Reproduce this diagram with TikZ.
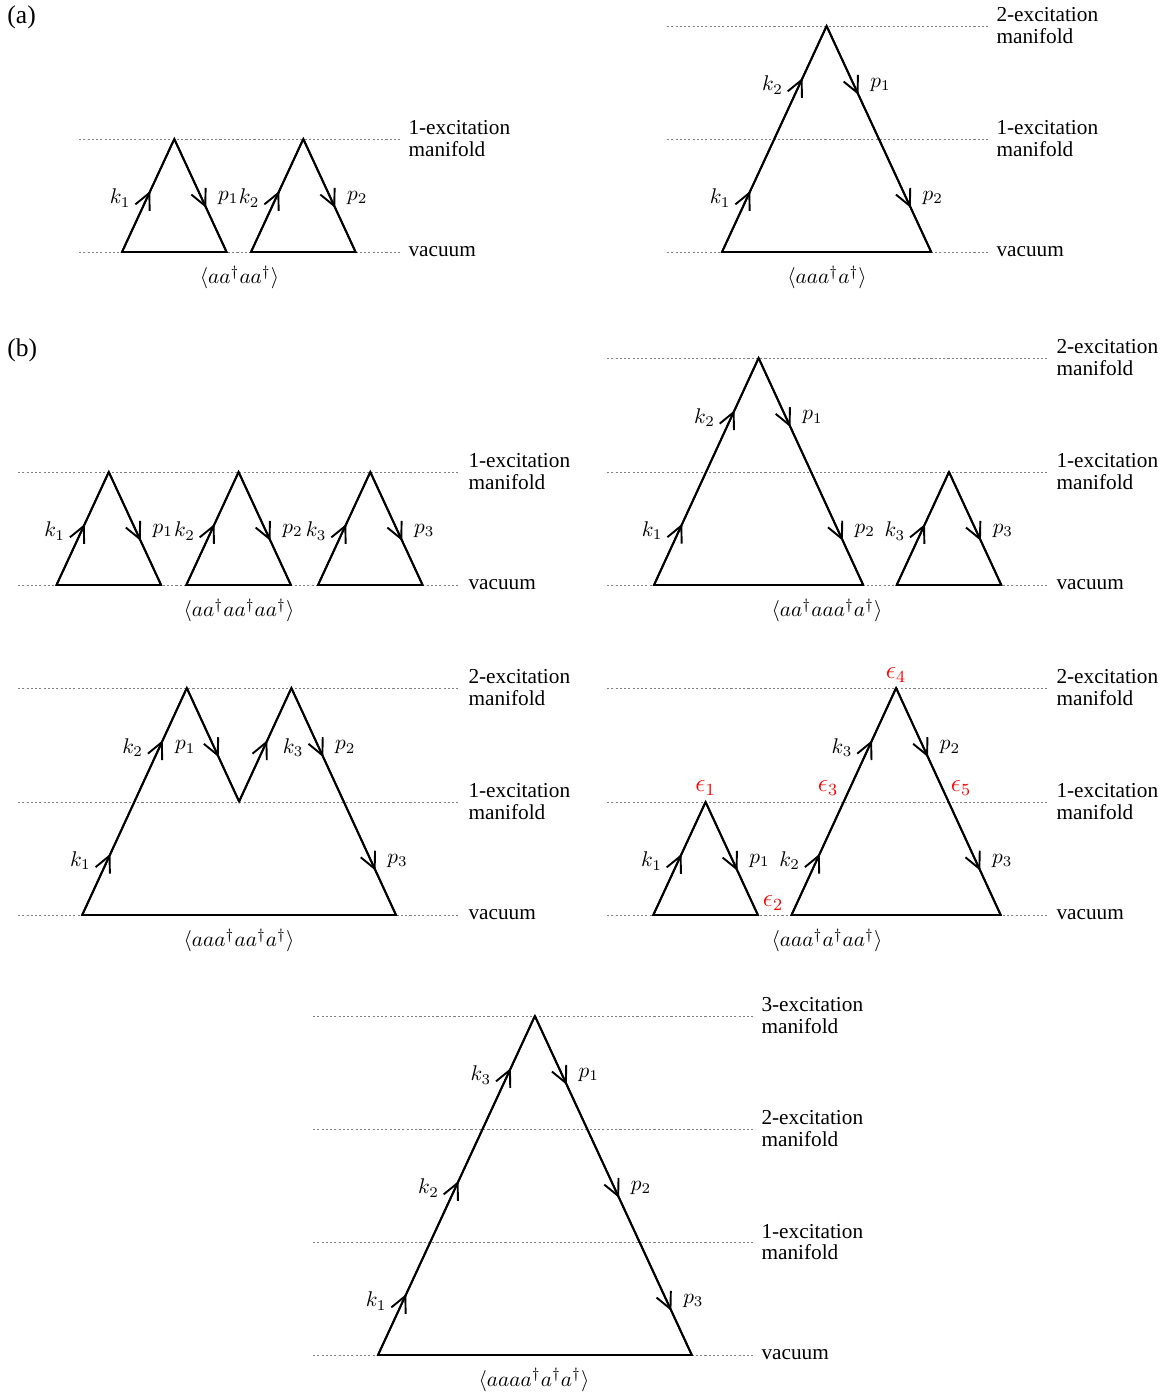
\documentclass[tikz,border=0pt]{standalone}
\usepackage[no-math]{fontspec}
\setmainfont{Liberation Serif}
\usetikzlibrary{positioning, arrows.meta, calc, decorations.markings}

\tikzset{
  lvl/.style={black!50, line width=0.4pt, dash pattern=on 1pt off 1pt},
  mfd/.style={anchor=west, align=left, inner sep=3.8pt, text=black,
              font=\fontsize{10}{10.3}\selectfont},
  prop/.style={line width=0.9pt},
  kedge/.style={prop, postaction={decorate},
    decoration={markings, mark=at position 0.54 with {\arrow{>}}}},
  pedge/.style={prop, postaction={decorate},
    decoration={markings, mark=at position 0.61 with {\arrow{>}}}},
  klab/.style={left=4.5pt, yshift=-1.2pt},
  plab/.style={right=4.5pt, yshift=-1.2pt},
  corr/.style={font=\fontsize{10}{12}\selectfont},
  eps/.style={text=red, inner sep=0pt, font=\fontsize{11.5}{13}\selectfont},
  panel/.style={font=\fontsize{12}{14}\selectfont, anchor=base west, inner sep=0pt},
}

\begin{document}
\begin{tikzpicture}[x=0.47pt, y=-0.47pt,
  >={Straight Barb[length=7.6pt, width=7.4pt, line width=0.9pt]}]
\useasboundingbox (0,0) rectangle (1166,1392);

\node[panel] (pa) at (7,23.7) {(a)};
\node[panel] (pb) at (7,356.7) {(b)};

% (a) left: <a a^+ a a^+>
\draw[lvl] (79,139) -- (400,139) node[mfd] (a1e1) {1-excitation\\manifold};
\draw[lvl] (79,252) -- (400,252) node[mfd] (a1e0) {vacuum};
\coordinate (a1v0) at (122,252);
\coordinate (a1t1) at (174.3,139);
\coordinate (a1v1) at (226.6,252);
\coordinate (a1v2) at (251,252);
\coordinate (a1t2) at (303.3,139);
\coordinate (a1v3) at (355.6,252);
\draw[kedge] (a1v0) -- node[klab] (a1k1) {$k_1$} (a1t1);
\draw[pedge] (a1t1) -- node[plab] (a1p1) {$p_1$} (a1v1);
\draw[kedge] (a1v2) -- node[klab] (a1k2) {$k_2$} (a1t2);
\draw[pedge] (a1t2) -- node[plab] (a1p2) {$p_2$} (a1v3);
\draw[prop] (a1v0) -- (a1t1) -- (a1v1) -- cycle;
\draw[prop] (a1v2) -- (a1t2) -- (a1v3) -- cycle;
\node[corr] (a1c) at (239.5,277.5) {$\langle aa^\dagger aa^\dagger\rangle$};

% (a) right: <a a a^+ a^+>
\draw[lvl] (667,26) -- (988,26) node[mfd] (a2e2) {2-excitation\\manifold};
\draw[lvl] (667,139) -- (988,139) node[mfd] (a2e1) {1-excitation\\manifold};
\draw[lvl] (667,252) -- (988,252) node[mfd] (a2e0) {vacuum};
\coordinate (a2v0) at (722,252);
\coordinate (a2t) at (826.6,26);
\coordinate (a2v1) at (931.2,252);
\coordinate (a2m1) at ($(a2v0)!.5!(a2t)$);
\coordinate (a2m2) at ($(a2t)!.5!(a2v1)$);
\draw[kedge] (a2v0) -- node[klab] (a2k1) {$k_1$} (a2m1);
\draw[kedge] (a2m1) -- node[klab] (a2k2) {$k_2$} (a2t);
\draw[pedge] (a2t) -- node[plab] (a2p1) {$p_1$} (a2m2);
\draw[pedge] (a2m2) -- node[plab] (a2p2) {$p_2$} (a2v1);
\draw[prop] (a2v0) -- (a2t) -- (a2v1) -- cycle;
\node[corr] (a2c) at (827,277.5) {$\langle aaa^\dagger a^\dagger\rangle$};

% (b) row 1 left: three bubbles
\draw[lvl] (18,472) -- (460,472) node[mfd] (b1e1) {1-excitation\\manifold};
\draw[lvl] (18,585) -- (460,585) node[mfd] (b1e0) {vacuum};
\coordinate (b1v0) at (56.5,585);
\coordinate (b1t1) at (108.8,472);
\coordinate (b1v1) at (161.1,585);
\coordinate (b1v2) at (186.3,585);
\coordinate (b1t2) at (238.6,472);
\coordinate (b1v3) at (290.9,585);
\coordinate (b1v4) at (318,585);
\coordinate (b1t3) at (370.3,472);
\coordinate (b1v5) at (422.6,585);
\draw[kedge] (b1v0) -- node[klab] (b1k1) {$k_1$} (b1t1);
\draw[pedge] (b1t1) -- node[plab] (b1p1) {$p_1$} (b1v1);
\draw[kedge] (b1v2) -- node[klab] (b1k2) {$k_2$} (b1t2);
\draw[pedge] (b1t2) -- node[plab] (b1p2) {$p_2$} (b1v3);
\draw[kedge] (b1v4) -- node[klab] (b1k3) {$k_3$} (b1t3);
\draw[pedge] (b1t3) -- node[plab] (b1p3) {$p_3$} (b1v5);
\draw[prop] (b1v0) -- (b1t1) -- (b1v1) -- cycle;
\draw[prop] (b1v2) -- (b1t2) -- (b1v3) -- cycle;
\draw[prop] (b1v4) -- (b1t3) -- (b1v5) -- cycle;
\node[corr] (b1c) at (239,610.5) {$\langle aa^\dagger aa^\dagger aa^\dagger\rangle$};

% (b) row 1 right
\draw[lvl] (607,358) -- (1048,358) node[mfd] (b2e2) {2-excitation\\manifold};
\draw[lvl] (607,472) -- (1048,472) node[mfd] (b2e1) {1-excitation\\manifold};
\draw[lvl] (607,585) -- (1048,585) node[mfd] (b2e0) {vacuum};
\coordinate (b2v0) at (654,585);
\coordinate (b2t) at (758.6,358);
\coordinate (b2v1) at (863.2,585);
\coordinate (b2m1) at ($(b2v0)!.5!(b2t)$);
\coordinate (b2m2) at ($(b2t)!.5!(b2v1)$);
\coordinate (b2s0) at (896.7,585);
\coordinate (b2st) at (949,472);
\coordinate (b2s1) at (1001.3,585);
\draw[kedge] (b2v0) -- node[klab] (b2k1) {$k_1$} (b2m1);
\draw[kedge] (b2m1) -- node[klab] (b2k2) {$k_2$} (b2t);
\draw[pedge] (b2t) -- node[plab] (b2p1) {$p_1$} (b2m2);
\draw[pedge] (b2m2) -- node[plab] (b2p2) {$p_2$} (b2v1);
\draw[kedge] (b2s0) -- node[klab] (b2k3) {$k_3$} (b2st);
\draw[pedge] (b2st) -- node[plab] (b2p3) {$p_3$} (b2s1);
\draw[prop] (b2v0) -- (b2t) -- (b2v1) -- cycle;
\draw[prop] (b2s0) -- (b2st) -- (b2s1) -- cycle;
\node[corr] (b2c) at (827,610.5) {$\langle aa^\dagger aaa^\dagger a^\dagger\rangle$};

% (b) row 2 left: two peaks
\draw[lvl] (18,688) -- (460,688) node[mfd] (b3e2) {2-excitation\\manifold};
\draw[lvl] (18,802) -- (460,802) node[mfd] (b3e1) {1-excitation\\manifold};
\draw[lvl] (18,915) -- (460,915) node[mfd] (b3e0) {vacuum};
\coordinate (b3v0) at (82.2,915);
\coordinate (b3t1) at (186.8,688);
\coordinate (b3w) at (239.1,801.5);
\coordinate (b3t2) at (291.4,688);
\coordinate (b3v1) at (396,915);
\coordinate (b3m1) at ($(b3v0)!.5!(b3t1)$);
\coordinate (b3m2) at ($(b3t2)!.5!(b3v1)$);
\draw[kedge] (b3v0) -- node[klab] (b3k1) {$k_1$} (b3m1);
\draw[kedge] (b3m1) -- node[klab] (b3k2) {$k_2$} (b3t1);
\draw[pedge] (b3t1) -- node[klab] (b3p1) {$p_1$} (b3w);
\draw[kedge] (b3w) -- node[plab] (b3k3) {$k_3$} (b3t2);
\draw[pedge] (b3t2) -- node[plab] (b3p2) {$p_2$} (b3m2);
\draw[pedge] (b3m2) -- node[plab] (b3p3) {$p_3$} (b3v1);
\draw[prop] (b3v0) -- (b3t1) -- (b3w) -- (b3t2) -- (b3v1) -- cycle;
\node[corr] (b3c) at (239,940.5) {$\langle aaa^\dagger aa^\dagger a^\dagger\rangle$};

% (b) row 2 right: energies marked
\draw[lvl] (607,688) -- (1048,688) node[mfd] (b4e2) {2-excitation\\manifold};
\draw[lvl] (607,802) -- (1048,802) node[mfd] (b4e1) {1-excitation\\manifold};
\draw[lvl] (607,915) -- (1048,915) node[mfd] (b4e0) {vacuum};
\coordinate (b4s0) at (653.3,915);
\coordinate (b4st) at (705.6,802);
\coordinate (b4s1) at (757.9,915);
\coordinate (b4v0) at (791.5,915);
\coordinate (b4t) at (896.1,688);
\coordinate (b4v1) at (1000.7,915);
\coordinate (b4m1) at ($(b4v0)!.5!(b4t)$);
\coordinate (b4m2) at ($(b4t)!.5!(b4v1)$);
\draw[kedge] (b4s0) -- node[klab] (b4k1) {$k_1$} (b4st);
\draw[pedge] (b4st) -- node[plab] (b4p1) {$p_1$} (b4s1);
\draw[kedge] (b4v0) -- node[klab] (b4k2) {$k_2$} (b4m1);
\draw[kedge] (b4m1) -- node[klab] (b4k3) {$k_3$} (b4t);
\draw[pedge] (b4t) -- node[plab] (b4p2) {$p_2$} (b4m2);
\draw[pedge] (b4m2) -- node[plab] (b4p3) {$p_3$} (b4v1);
\draw[prop] (b4s0) -- (b4st) -- (b4s1) -- cycle;
\draw[prop] (b4v0) -- (b4t) -- (b4v1) -- cycle;
\node[eps] (b4eps1) at (705.5,788) {$\epsilon_1$};
\node[eps] (b4eps2) at (773,903) {$\epsilon_2$};
\node[eps] (b4eps3) at (828,788) {$\epsilon_3$};
\node[eps] (b4eps4) at (896,675) {$\epsilon_4$};
\node[eps] (b4eps5) at (961,788) {$\epsilon_5$};
\node[corr] (b4c) at (827,940.5) {$\langle aaa^\dagger a^\dagger aa^\dagger\rangle$};

% (b) row 3: three excitations
\draw[lvl] (313,1016) -- (753,1016) node[mfd] (b5e3) {3-excitation\\manifold};
\draw[lvl] (313,1129) -- (753,1129) node[mfd] (b5e2) {2-excitation\\manifold};
\draw[lvl] (313,1242) -- (753,1242) node[mfd] (b5e1) {1-excitation\\manifold};
\draw[lvl] (313,1355) -- (753,1355) node[mfd] (b5e0) {vacuum};
\coordinate (b5v0) at (378,1355);
\coordinate (b5t) at (534.9,1016);
\coordinate (b5v1) at (691.8,1355);
\coordinate (b5l1) at ($(b5v0)!1/3!(b5t)$);
\coordinate (b5l2) at ($(b5v0)!2/3!(b5t)$);
\coordinate (b5r1) at ($(b5t)!1/3!(b5v1)$);
\coordinate (b5r2) at ($(b5t)!2/3!(b5v1)$);
\draw[kedge] (b5v0) -- node[klab] (b5k1) {$k_1$} (b5l1);
\draw[kedge] (b5l1) -- node[klab] (b5k2) {$k_2$} (b5l2);
\draw[kedge] (b5l2) -- node[klab] (b5k3) {$k_3$} (b5t);
\draw[pedge] (b5t) -- node[plab] (b5p1) {$p_1$} (b5r1);
\draw[pedge] (b5r1) -- node[plab] (b5p2) {$p_2$} (b5r2);
\draw[pedge] (b5r2) -- node[plab] (b5p3) {$p_3$} (b5v1);
\draw[prop] (b5v0) -- (b5t) -- (b5v1) -- cycle;
\node[corr] (b5c) at (534,1380) {$\langle aaaa^\dagger a^\dagger a^\dagger\rangle$};

\end{tikzpicture}
\end{document}
